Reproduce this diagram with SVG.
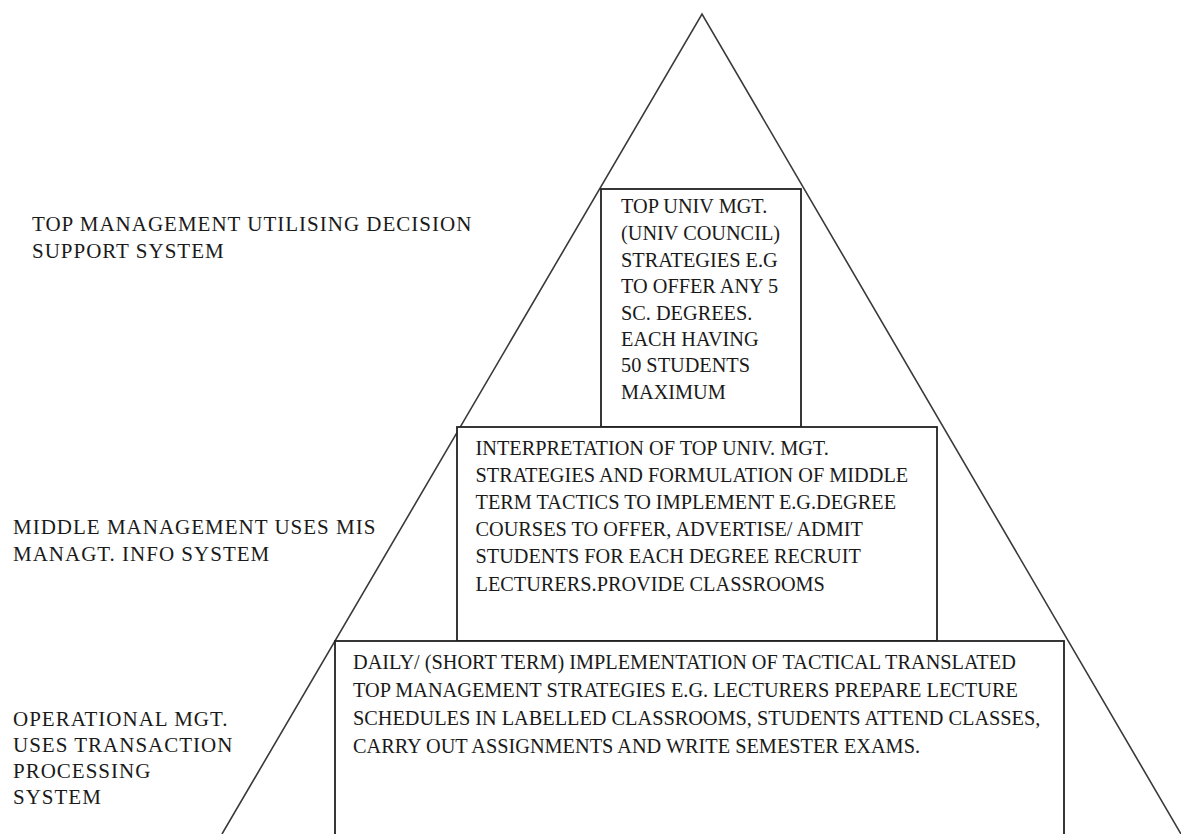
<svg xmlns="http://www.w3.org/2000/svg" width="1181" height="834" viewBox="0 0 1181 834">
<style>
.bg{fill:#ffffff}
.tri{fill:none;stroke:#3a3a3a;stroke-width:1.6}
.box{fill:#ffffff;stroke:#222222;stroke-width:1.8}
.t{font-family:"Liberation Serif","Times New Roman",serif;font-size:20.3px;fill:#1a1a1a}
.lbl{font-family:"Liberation Serif","Times New Roman",serif;font-size:21px;letter-spacing:1px;fill:#1a1a1a}
</style>
<rect class="bg" x="0" y="0" width="1181" height="834"/>
<g id="connectors">
<polyline class="tri" points="222,834 702,14 1181,834"/>
</g>
<g id="label-top">
<text class="lbl" x="32" y="231">TOP MANAGEMENT UTILISING DECISION</text>
<text class="lbl" x="32" y="258">SUPPORT SYSTEM</text>
</g>
<g id="label-middle">
<text class="lbl" x="13" y="534">MIDDLE MANAGEMENT USES MIS</text>
<text class="lbl" x="13" y="561">MANAGT. INFO SYSTEM</text>
</g>
<g id="label-operational">
<text class="lbl" x="13" y="726">OPERATIONAL MGT.</text>
<text class="lbl" x="13" y="752">USES TRANSACTION</text>
<text class="lbl" x="13" y="778">PROCESSING</text>
<text class="lbl" x="13" y="804">SYSTEM</text>
</g>
<g id="box-top">
<rect class="box" x="601" y="189" width="200" height="238"/>
<text class="t" x="621" y="213">TOP UNIV MGT.</text>
<text class="t" x="621" y="240">(UNIV COUNCIL)</text>
<text class="t" x="621" y="267">STRATEGIES E.G</text>
<text class="t" x="621" y="293">TO OFFER ANY 5</text>
<text class="t" x="621" y="320">SC. DEGREES.</text>
<text class="t" x="621" y="346">EACH HAVING</text>
<text class="t" x="621" y="372">50 STUDENTS</text>
<text class="t" x="621" y="399">MAXIMUM</text>
</g>
<g id="box-middle">
<rect class="box" x="457" y="427" width="480" height="214"/>
<text class="t" x="475.5" y="455">INTERPRETATION OF TOP UNIV. MGT.</text>
<text class="t" x="475.5" y="482">STRATEGIES AND FORMULATION OF MIDDLE</text>
<text class="t" x="475.5" y="509">TERM TACTICS TO IMPLEMENT E.G.DEGREE</text>
<text class="t" x="475.5" y="536">COURSES TO OFFER, ADVERTISE/ ADMIT</text>
<text class="t" x="475.5" y="563">STUDENTS FOR EACH DEGREE RECRUIT</text>
<text class="t" x="475.5" y="591">LECTURERS.PROVIDE CLASSROOMS</text>
</g>
<g id="box-bottom">
<rect class="box" x="335" y="641" width="729" height="210"/>
<text class="t" x="353" y="669">DAILY/ (SHORT TERM) IMPLEMENTATION OF TACTICAL TRANSLATED</text>
<text class="t" x="353" y="697">TOP MANAGEMENT STRATEGIES E.G. LECTURERS PREPARE LECTURE</text>
<text class="t" x="353" y="725">SCHEDULES IN LABELLED CLASSROOMS, STUDENTS ATTEND CLASSES,</text>
<text class="t" x="353" y="753">CARRY OUT ASSIGNMENTS AND WRITE SEMESTER EXAMS.</text>
</g>
</svg>
